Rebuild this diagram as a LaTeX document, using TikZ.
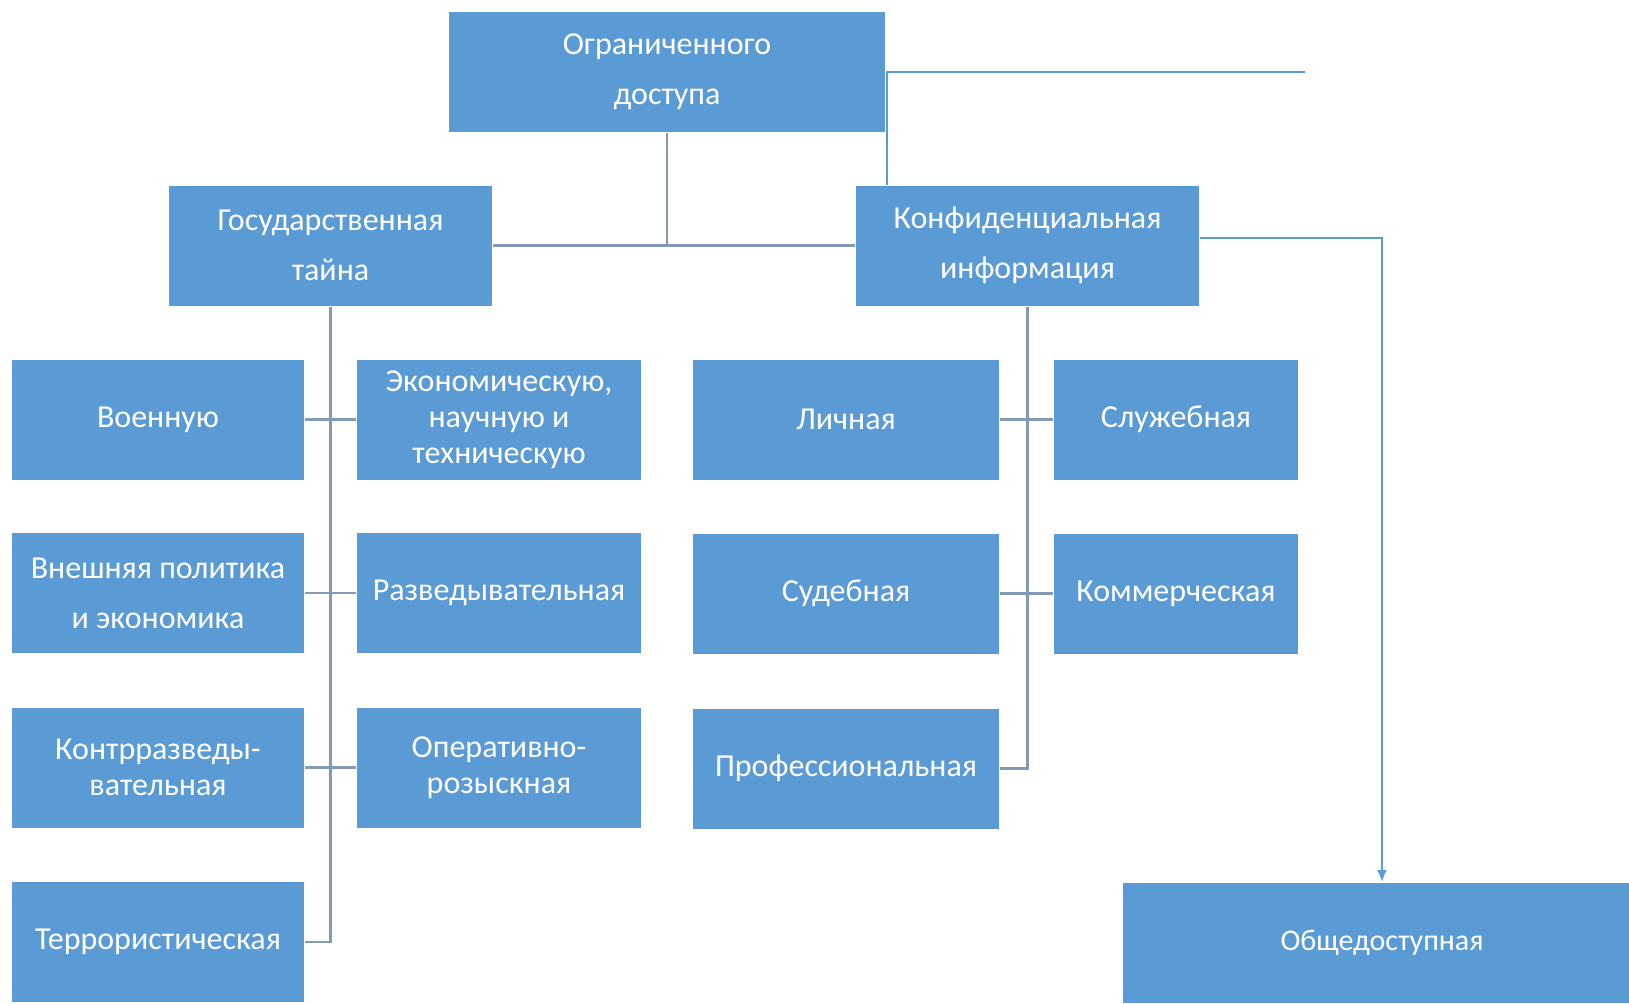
\documentclass[tikz,border=0pt]{standalone}
\usepackage{fontspec}
\setmainfont{Carlito}
\usepackage{tikz}
\usetikzlibrary{arrows.meta}
\definecolor{boxblue}{HTML}{5B9BD5}
\definecolor{linegray}{HTML}{8499B3}
\definecolor{lineblue}{HTML}{5B9BD5}
\tikzset{
every picture/.style={
line width=1pt
}}

\begin{document}
\begin{tikzpicture}[x=0.5pt, y=-0.5pt,
block/.style = {rectangle, fill=boxblue, text=white, align=center, inner sep=0pt, minimum height=60pt, font=\fontsize{16}{18}\selectfont},
wide/.style = {font=\fontsize{16}{25}\selectfont},
link/.style = {draw=linegray, line width=1.2pt},
feed/.style = {draw=lineblue, line width=1pt}]

\useasboundingbox (0,0) rectangle (1629,1003);

\node[block, wide, minimum width=218pt] (top) at (667,72) {Ограниченного\\доступа};
\node[block, wide, minimum width=161.5pt] (gos) at (330.5,245.5) {Государственная\\тайна};
\node[block, wide, minimum width=171.5pt] (konf) at (1027.5,245.5) {Конфиденциальная\\информация};

% gosudarstvennaya
\node[block, minimum width=146pt] (voen) at (158,419.5) {Военную};
\node[block, wide, minimum width=146pt] (vnesh) at (158,593) {Внешняя политика\\и экономика};
\node[block, minimum width=146pt] (kontr) at (158,767.5) {Контрразведы-\\вательная};
\node[block, minimum width=146pt] (terr) at (158,942) {Террористическая};
\node[block, minimum width=142pt] (ekon) at (499,419.5) {Экономическую,\\научную и\\техническую};
\node[block, minimum width=142pt] (razv) at (499,593) {Разведывательная};
\node[block, minimum width=142pt] (oper) at (499,767.5) {Оперативно-\\розыскная};

% konfidencialnaya
\node[block, minimum width=153pt] (lich) at (846,419.5) {Личная};
\node[block, minimum width=153pt] (sud) at (846,593.5) {Судебная};
\node[block, minimum width=153pt] (prof) at (846,768.5) {Профессиональная};
\node[block, minimum width=122pt] (sluzh) at (1176,419.5) {Служебная};
\node[block, minimum width=122pt] (komm) at (1176,593.5) {Коммерческая};

\node[block, minimum width=259pt, font=\fontsize{15}{18}\selectfont] (obsh) at (1382,943) {Общедоступная};
\coordinate (open) at (1305,72);

\draw[link] (top.south) -- (top.south |- gos.east);
\draw[link] (gos) -- (konf);
\draw[feed] ([xshift=16pt]konf.north west) |- (open);
\draw[feed, -{Latex[length=6pt, width=5pt]}] ([yshift=3.75pt]konf.east) -| (obsh.north);

\draw[link] (gos.south) |- (terr.east);
\draw[link] (voen) -- (ekon);
\draw[link] (vnesh) -- (razv);
\draw[link] (kontr) -- (oper);

\draw[link] (konf.south) |- (prof.east);
\draw[link] (lich) -- (sluzh);
\draw[link] (sud) -- (komm);
\end{tikzpicture}
\end{document}
